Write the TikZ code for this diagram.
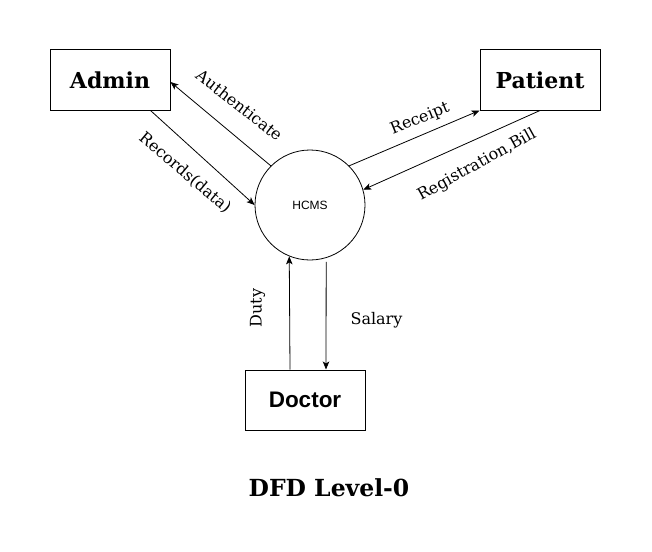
\documentclass[tikz,border=0pt]{standalone}
\usepackage{fontspec}
\setmainfont{DejaVu Serif}
\newfontfamily\arialfont{Liberation Sans}
\usetikzlibrary{arrows.meta,calc}
\begin{document}
\begin{tikzpicture}[x=1pt,y=-1pt,
  entity/.style={draw,line width=1pt,minimum width=120pt,minimum height=60pt,inner sep=0pt},
  flow/.style={line width=0.8pt,-{Stealth[length=8pt,width=6.5pt,inset=2pt]}},
  lbl/.style={inner sep=0pt,font=\fontsize{16}{18}\selectfont}]
\useasboundingbox (0,0) rectangle (652,551);
\node[entity,font=\fontsize{22}{26}\selectfont\bfseries] (admin) at (110,80) {Admin};
\node[entity,font=\fontsize{22}{26}\selectfont\bfseries] (patient) at (540,80) {Patient};
\node[entity,font=\arialfont\fontsize{22.5}{26}\selectfont\bfseries] (doctor) at (305,400) {Doctor};
\node[draw,circle,line width=0.8pt,minimum size=110pt,inner sep=0pt,font=\arialfont\fontsize{12}{14}\selectfont] (hcms) at (310,205) {HCMS};

\draw[flow] (hcms.135) -- ($(admin.east)+(0,2)$);
\draw[flow] ($(admin.south east)+(-20,0)$) -- (hcms.180);
\draw[flow] (hcms.45) -- (patient.south west);
\draw[flow] (patient.south) -- (hcms.16);
\draw[flow] ($(doctor.north)+(-15,0)$) -- (hcms.-112);
\draw[flow,shorten <=4pt] (hcms.-73) -- ($(doctor.north)+(21,0)$);

\node[lbl,rotate=-38] (lauth) at (239.5,105) {Authenticate};
\node[lbl,rotate=-40] (lrec) at (185,173) {Records(data)};
\node[lbl,rotate=22] (lreceipt) at (420,119) {Receipt};
\node[lbl,rotate=29] (lreg) at (477,165) {Registration,Bill};
\node[lbl,rotate=90] (lduty) at (257.5,308) {Duty};
\node[lbl] (lsal) at (376.5,320) {Salary};
\node[font=\fontsize{23.5}{27}\selectfont\bfseries,inner sep=0pt] (title) at (329,488) {DFD Level-0};
\end{tikzpicture}
\end{document}
